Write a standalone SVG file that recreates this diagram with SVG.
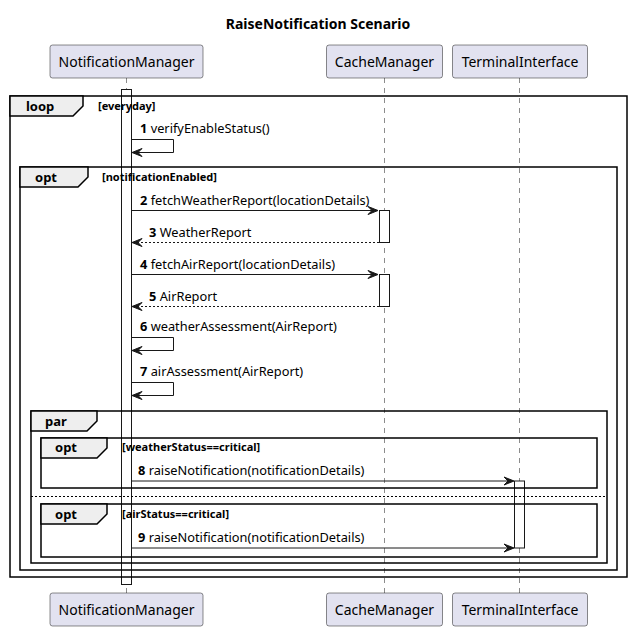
<svg xmlns="http://www.w3.org/2000/svg" width="632" height="631" viewBox="0 0 632 631">
<defs>
<style>
text{font-family:"Noto Sans","Open Sans","DejaVu Sans",sans-serif;fill:#000}
.title{font-size:14px;font-weight:bold}
.pname{font-size:14px;fill:#000}
.pbox{fill:#E2E2F0;stroke:#181818;stroke-width:0.5}
.life{stroke:#181818;stroke-width:0.5;stroke-dasharray:5,5;fill:none}
.act{fill:#FFFFFF;stroke:#181818;stroke-width:1}
.frame{fill:none;stroke:#000;stroke-width:1.5}
.tab{fill:#EEEEEE;stroke:#000;stroke-width:1.5}
.flabel{font-size:13px;font-weight:bold}
.guard{font-size:11px;font-weight:bold}
.sep{stroke:#000;stroke-width:1;stroke-dasharray:2,2}
.msg{fill:none;stroke:#181818;stroke-width:1}
.ret{fill:none;stroke:#181818;stroke-width:1;stroke-dasharray:2,2}
.head{fill:#181818;stroke:#181818;stroke-width:1}
.mtext{font-size:12.8px}
.num{font-weight:bold}
</style>
</defs>
<rect width="632" height="631" fill="#FFFFFF"/>
<text class="title" x="318" y="29" text-anchor="middle">RaiseNotification Scenario</text>

<g id="lifelines">
<line class="life" x1="126.5" y1="78" x2="126.5" y2="593"/>
<line class="life" x1="384.5" y1="78" x2="384.5" y2="593"/>
<line class="life" x1="519.5" y1="78" x2="519.5" y2="593"/>
</g>

<g id="NotificationManager">
<rect class="pbox" x="50" y="45" width="153" height="33" rx="2.5"/>
<text class="pname" x="126.5" y="67" text-anchor="middle">NotificationManager</text>
<rect class="pbox" x="50" y="593" width="153" height="33" rx="2.5"/>
<text class="pname" x="126.5" y="615" text-anchor="middle">NotificationManager</text>
</g>
<g id="CacheManager">
<rect class="pbox" x="326.5" y="45" width="116" height="33" rx="2.5"/>
<text class="pname" x="384.5" y="67" text-anchor="middle">CacheManager</text>
<rect class="pbox" x="326.5" y="593" width="116" height="33" rx="2.5"/>
<text class="pname" x="384.5" y="615" text-anchor="middle">CacheManager</text>
</g>
<g id="TerminalInterface">
<rect class="pbox" x="452.5" y="45" width="135" height="33" rx="2.5"/>
<text class="pname" x="520" y="67" text-anchor="middle">TerminalInterface</text>
<rect class="pbox" x="452.5" y="593" width="135" height="33" rx="2.5"/>
<text class="pname" x="520" y="615" text-anchor="middle">TerminalInterface</text>
</g>

<g id="activations">
<rect class="act" x="121.5" y="89.5" width="10" height="495"/>
<rect class="act" x="379.5" y="210.5" width="10" height="32"/>
<rect class="act" x="379.5" y="274.5" width="10" height="32"/>
<rect class="act" x="514.5" y="481" width="10" height="67"/>
</g>

<g id="loop-everyday">
<rect class="frame" x="10" y="96" width="617" height="481"/>
<polygon class="tab" points="10,96 83,96 83,106 73,116 10,116"/>
<text class="flabel" x="26" y="111">loop</text>
<text class="guard" x="98" y="110">[everyday]</text>
</g>
<g id="opt-notificationEnabled">
<rect class="frame" x="20" y="167" width="597" height="403"/>
<polygon class="tab" points="20,167 88,167 88,177 78,187 20,187"/>
<text class="flabel" x="35" y="182">opt</text>
<text class="guard" x="102" y="181">[notificationEnabled]</text>
</g>
<g id="par">
<rect class="frame" x="31" y="411" width="576" height="152"/>
<polygon class="tab" points="31,411 97,411 97,421 87,431 31,431"/>
<text class="flabel" x="45" y="426">par</text>
<line class="sep" x1="31" y1="496.5" x2="607" y2="496.5"/>
</g>
<g id="opt-weatherStatus">
<rect class="frame" x="41" y="438" width="556" height="50"/>
<polygon class="tab" points="41,438 107,438 107,448 97,458 41,458"/>
<text class="flabel" x="55" y="452">opt</text>
<text class="guard" x="122" y="451">[weatherStatus==critical]</text>
</g>
<g id="opt-airStatus">
<rect class="frame" x="41" y="504" width="556" height="53"/>
<polygon class="tab" points="41,504 107,504 107,514 97,524 41,524"/>
<text class="flabel" x="55" y="519">opt</text>
<text class="guard" x="122" y="518">[airStatus==critical]</text>
</g>

<g id="connectors">
<polyline class="msg" points="132,139.5 173.5,139.5 173.5,152.5 133,152.5"/>
<polygon class="head" points="142,148.5 132,152.5 142,156.5 138,152.5"/>
<text class="mtext" x="140" y="133"><tspan class="num">1</tspan> verifyEnableStatus()</text>
<line class="msg" x1="132" y1="210.5" x2="377" y2="210.5"/>
<polygon class="head" points="368,206.5 378,210.5 368,214.5 372,210.5"/>
<text class="mtext" x="140" y="205"><tspan class="num">2</tspan> fetchWeatherReport(locationDetails)</text>
<line class="ret" x1="379" y1="242.5" x2="133" y2="242.5"/>
<polygon class="head" points="142,238.5 132,242.5 142,246.5 138,242.5"/>
<text class="mtext" x="149" y="237"><tspan class="num">3</tspan> WeatherReport</text>
<line class="msg" x1="132" y1="274.5" x2="377" y2="274.5"/>
<polygon class="head" points="368,270.5 378,274.5 368,278.5 372,274.5"/>
<text class="mtext" x="140" y="269"><tspan class="num">4</tspan> fetchAirReport(locationDetails)</text>
<line class="ret" x1="379" y1="306.5" x2="133" y2="306.5"/>
<polygon class="head" points="142,302.5 132,306.5 142,310.5 138,306.5"/>
<text class="mtext" x="149" y="301"><tspan class="num">5</tspan> AirReport</text>
<polyline class="msg" points="132,337.5 173.5,337.5 173.5,350.5 133,350.5"/>
<polygon class="head" points="142,346.5 132,350.5 142,354.5 138,350.5"/>
<text class="mtext" x="140" y="331"><tspan class="num">6</tspan> weatherAssessment(AirReport)</text>
<polyline class="msg" points="132,382.5 173.5,382.5 173.5,395.5 133,395.5"/>
<polygon class="head" points="142,391.5 132,395.5 142,399.5 138,395.5"/>
<text class="mtext" x="140" y="376"><tspan class="num">7</tspan> airAssessment(AirReport)</text>
<line class="msg" x1="132" y1="481" x2="513" y2="481"/>
<polygon class="head" points="504,477 514,481 504,485 508,481"/>
<text class="mtext" x="138" y="475"><tspan class="num">8</tspan> raiseNotification(notificationDetails)</text>
<line class="msg" x1="132" y1="548" x2="513" y2="548"/>
<polygon class="head" points="504,544 514,548 504,552 508,548"/>
<text class="mtext" x="138" y="542"><tspan class="num">9</tspan> raiseNotification(notificationDetails)</text>
</g>
</svg>
